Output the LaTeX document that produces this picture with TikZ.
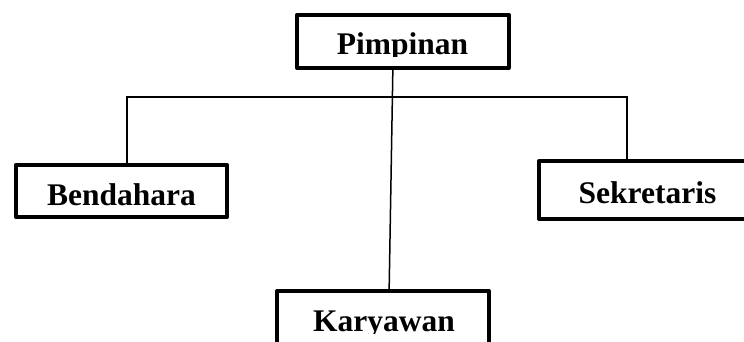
\documentclass[tikz,border=0pt]{standalone}
\usepackage{fontspec}
\setmainfont{Liberation Serif}
\begin{document}
\begin{tikzpicture}[x=1pt,y=-1pt,
  box/.style={draw=black, line width=4pt, line join=round, rectangle, inner sep=0pt, minimum width=211.7pt, minimum height=53.3pt},
  lbl/.style={font=\bfseries\fontsize{31.5}{31.5}\selectfont, inner sep=0pt, anchor=base, text=black},
  conn/.style={draw=black, line width=1.5pt}]
\useasboundingbox (0,0) rectangle (744,341);
\clip (0,0) rectangle (744,341);
% boxes
\node[box] (pim) at (402.85,41.35) {};
\node[box, minimum width=210.7pt, minimum height=52.6pt] (ben) at (121.35,191) {};
\node[box, draw=none, minimum width=240pt, minimum height=54pt] (sek) at (661.3,190) {};
\draw[line width=4pt, line join=round] (sek.north east) -- (sek.north west) -- (sek.south west) -- (sek.south east);
\node[box] (kar) at (382.85,317.6) {};
% connectors
\coordinate (hl) at (127,97);
\coordinate (hr) at (627,97);
\draw[conn] (ben.north -| hl) -- (hl) -- (hr) -- (sek.north -| hr);
\draw[conn] ([xshift=-10pt]pim.south) -- ([xshift=6.3pt]kar.north);
% labels (clipped just under the baseline, as in the reference)
\begin{scope}
  \clip (300,18) rectangle (505,56.2);
  \node[lbl] (tpim) at (402.5,54.5) {Pimpinan};
\end{scope}
\node[lbl] (tben) at (121.6,205) {Bendahara};
\node[lbl] (tsek) at (647.5,203.5) {Sekretaris};
\begin{scope}
  \clip (280,294) rectangle (486,333.5);
  \node[lbl] (tkar) at (384,331.7) {Karyawan};
\end{scope}
\end{tikzpicture}
\end{document}
